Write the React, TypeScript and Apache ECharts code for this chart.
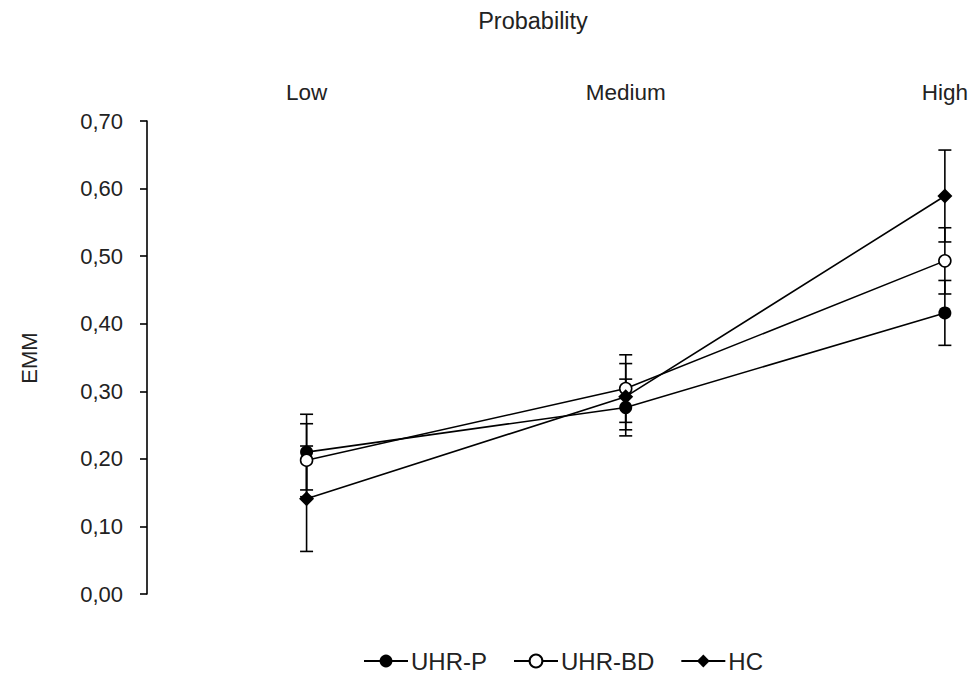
import React, { useEffect, useRef } from "react";
import * as echarts from "echarts";

const categories = ["Low", "Medium", "High"];
const yTicks = [0, 0.1, 0.2, 0.3, 0.4, 0.5, 0.6, 0.7];

const uhrP = [0.21, 0.276, 0.416];
const uhrPErr = [0.056, 0.042, 0.048];
const uhrBD = [0.198, 0.304, 0.493];
const uhrBDErr = [0.054, 0.05, 0.049];
const hc = [0.141, 0.292, 0.589];
const hcErr = [0.078, 0.049, 0.068];

const seriesNames = ["UHR-P", "UHR-BD", "HC"];

const FONT = "Liberation Sans, Arial, sans-serif";
const TXT = "#222";

// category index i is drawn at the centre of its band: i + 0.5 on a value axis
const pos = (i: number) => i + 0.5;

function errorSeries(name: string, vals: number[], errs: number[]) {
  return {
    type: "custom",
    name: name + "-err",
    z: 1,
    clip: false,
    silent: true,
    data: vals.map((v, i) => [pos(i), v - errs[i], v + errs[i]]),
    encode: { x: 0, y: [1, 2] },
    renderItem: (params: any, api: any) => {
      const x = api.value(0);
      const lo = api.coord([x, api.value(1)]);
      const hi = api.coord([x, api.value(2)]);
      const w = 6.5;
      const st = { stroke: "#000", lineWidth: 1.6 };
      return {
        type: "group",
        children: [
          { type: "line", shape: { x1: lo[0], y1: lo[1], x2: hi[0], y2: hi[1] }, style: st },
          { type: "line", shape: { x1: lo[0] - w, y1: lo[1], x2: lo[0] + w, y2: lo[1] }, style: st },
          { type: "line", shape: { x1: hi[0] - w, y1: hi[1], x2: hi[0] + w, y2: hi[1] }, style: st },
        ],
      };
    },
  };
}

function lineSeries(name: string, vals: number[], symbol: string, size: number, fill: string) {
  return {
    type: "line",
    name,
    z: 5,
    clip: false,
    data: vals.map((v, i) => [pos(i), v]),
    symbol,
    symbolSize: size,
    showAllSymbol: true,
    lineStyle: { color: "#000", width: 1.6 },
    itemStyle: { color: fill, borderColor: "#000", borderWidth: fill === "#fff" ? 1.6 : 0 },
    emphasis: { disabled: true },
  };
}

export default function App() {
  const ref = useRef<HTMLDivElement>(null);
  useEffect(() => {
    if (!ref.current) return;
    const chart = echarts.init(ref.current, undefined, { renderer: "svg" });
    chart.setOption({
      animation: false,
      backgroundColor: "#fff",
      textStyle: { fontFamily: FONT, color: TXT },
      grid: { left: 147, top: 121, right: 24, bottom: 86 },
      xAxis: {
        type: "value",
        position: "top",
        min: 0,
        max: categories.length - 0.5,
        interval: 0.5,
        axisLine: { show: false },
        axisTick: { show: false },
        splitLine: { show: false },
        axisLabel: {
          fontSize: 22.5,
          color: TXT,
          fontFamily: FONT,
          margin: 17,
          showMaxLabel: true,
          formatter: (v: number) => {
            const i = Math.round(v - 0.5);
            return Math.abs(v - 0.5 - i) < 1e-6 && categories[i] ? categories[i] : "";
          },
        },
      },
      yAxis: {
        type: "value",
        min: 0,
        max: 0.7,
        interval: 0.1,
        axisLine: { show: true, lineStyle: { color: "#000", width: 1.6 } },
        axisTick: { show: true, length: 7, lineStyle: { color: "#000", width: 1.6 } },
        splitLine: { show: false },
        axisLabel: {
          fontSize: 22,
          color: TXT,
          fontFamily: FONT,
          margin: 24,
          formatter: (v: number) => {
            const t = yTicks.reduce((a, b) => (Math.abs(b - v) < Math.abs(a - v) ? b : a));
            return t.toFixed(2).replace(".", ",");
          },
        },
      },
      legend: {
        left: 363,
        top: 649,
        padding: 0,
        itemWidth: 44,
        itemHeight: 16,
        itemGap: 26,
        textStyle: { fontSize: 24, color: TXT, fontFamily: FONT, padding: [0, 0, 0, -2] },
        data: seriesNames,
      },
      graphic: [
        {
          type: "text",
          x: 533,
          y: 21,
          style: { text: "Probability", font: `23.5px ${FONT}`, fill: TXT, textAlign: "center", textVerticalAlign: "middle" },
        },
        {
          type: "text",
          x: 29,
          y: 358,
          rotation: Math.PI / 2,
          style: { text: "EMM", font: `22px ${FONT}`, fill: TXT, textAlign: "center", textVerticalAlign: "middle" },
        },
      ],
      series: [
        errorSeries(seriesNames[0], uhrP, uhrPErr),
        errorSeries(seriesNames[1], uhrBD, uhrBDErr),
        errorSeries(seriesNames[2], hc, hcErr),
        lineSeries(seriesNames[0], uhrP, "circle", 13, "#000"),
        lineSeries(seriesNames[1], uhrBD, "circle", 12, "#fff"),
        lineSeries(seriesNames[2], hc, "diamond", 15, "#000"),
      ],
    });
    return () => chart.dispose();
  }, []);
  return (
    <div
      ref={ref}
      style={{ position: "fixed", left: 0, top: 0, width: 971, height: 680, background: "#fff" }}
    />
  );
}
